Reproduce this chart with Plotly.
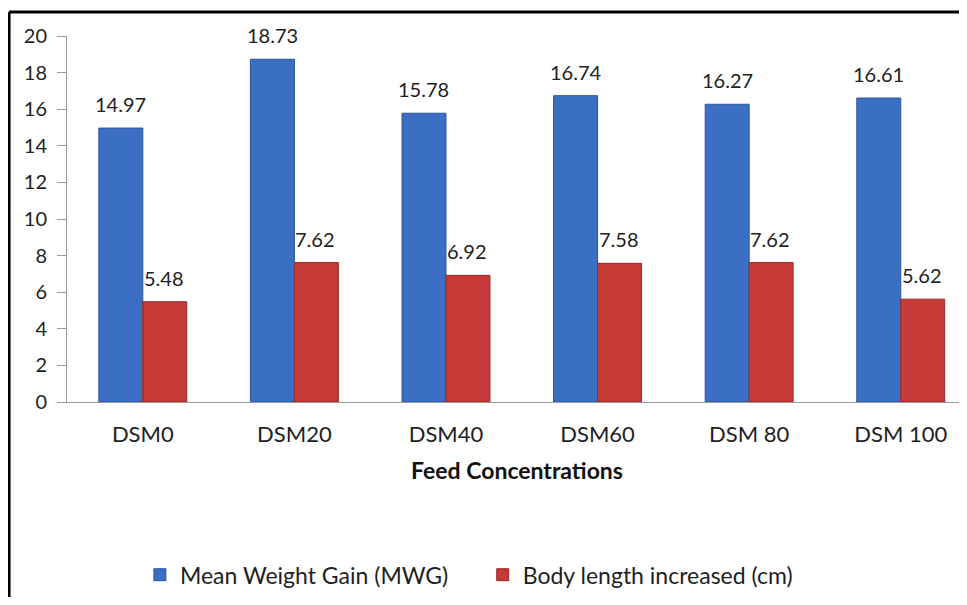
import plotly.graph_objects as go

categories = ["DSM0", "DSM20", "DSM40", "DSM60", "DSM 80", "DSM 100"]
mwg = [14.97, 18.73, 15.78, 16.74, 16.27, 16.61]
body_len = [5.48, 7.62, 6.92, 7.58, 7.62, 5.62]
y_ticks = list(range(0, 21, 2))

FONT = "Lato"
TXT = "#1e1e1e"
PAD = "\u00a0" * 5

fig = go.Figure()
fig.add_trace(go.Bar(
    x=categories, y=mwg, name="Mean Weight Gain (MWG)" + PAD,
    marker=dict(color="#3b6fc4", line=dict(color="#2b5498", width=1)),
))
fig.add_trace(go.Bar(
    x=categories, y=body_len, name="Body length increased (cm)",
    marker=dict(color="#c63a38", line=dict(color="#972a28", width=1)),
))

annotations = []
for cat, v in zip(categories, mwg):
    annotations.append(dict(x=cat, y=v, xref="x", yref="y", text=f"{v:.2f}", showarrow=False,
                            xshift=-22, yshift=24, yanchor="middle",
                            font=dict(family=FONT, size=20, color=TXT)))
for cat, v in zip(categories, body_len):
    annotations.append(dict(x=cat, y=v, xref="x", yref="y", text=f"{v:.2f}", showarrow=False,
                            xshift=21, yshift=24, yanchor="middle",
                            font=dict(family=FONT, size=20, color=TXT)))

fig.update_layout(
    width=959, height=589,
    margin=dict(l=59, r=0, t=28, b=195),
    paper_bgcolor="white", plot_bgcolor="white",
    barmode="group", bargap=0.42, bargroupgap=0,
    font=dict(family=FONT, color=TXT),
    showlegend=True,
    legend=dict(orientation="h", x=0.081, xanchor="left", y=-0.472, yanchor="middle",
                font=dict(family=FONT, size=23, color=TXT)),
    xaxis=dict(
        range=[-0.5, 5.437], showgrid=False, showline=True, linecolor="#9a9a9a", linewidth=1,
        ticks="", tickfont=dict(family=FONT, size=22, color=TXT), ticklabelstandoff=13,
        title=dict(text="<b>Feed Concentrations</b>", font=dict(family=FONT, size=23, color="#111"),
                   standoff=16),
    ),
    yaxis=dict(
        range=[0, 20], tickvals=y_ticks, showgrid=False, showline=True, linecolor="#9a9a9a",
        linewidth=1, ticks="outside", ticklen=9, tickcolor="#9a9a9a",
        tickfont=dict(family=FONT, size=20, color=TXT), ticklabelstandoff=6, zeroline=False,
    ),
    annotations=annotations,
    shapes=[
        dict(type="line", xref="paper", yref="paper", x0=-0.0644, x1=-0.0644, y0=1.0656, y1=-0.6,
             line=dict(color="black", width=3)),
        dict(type="line", xref="paper", yref="paper", x0=-0.0644, x1=1.01, y0=1.0656, y1=1.0656,
             line=dict(color="black", width=3)),
    ],
)

fig.write_html("out.html")
